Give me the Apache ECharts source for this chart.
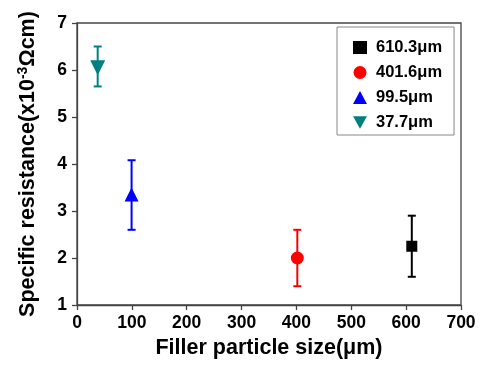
<!DOCTYPE html>
<html><head><meta charset="utf-8">
<script src="https://cdn.jsdelivr.net/npm/echarts@6/dist/echarts.min.js"></script>
<style>html,body{margin:0;padding:0;background:#fff}#c{width:487px;height:370px}</style>
</head><body><div id="c"></div>
<script>
const names = ['610.3μm', '401.6μm', '99.5μm', '37.7μm'];
const sizes = [610.3, 401.6, 99.5, 37.7];
const resist = [2.25, 2.0, 3.35, 6.05];
const errLow = [1.6, 1.4, 2.6, 5.65];
const errHigh = [2.9, 2.6, 4.08, 6.5];
const colors = ['#000000', '#ff0000', '#0000ff', '#008080'];
const symbols = ['rect', 'circle', 'triangle', 'triangle'];
const legendIcons = ['rect', 'circle', 'triangle', 'path://M0,0 L10,0 L5,9 Z'];
const rotations = [0, 0, 0, 180];
const symSizes = [11, 13, 14, 15];
const xTicks = [0, 100, 200, 300, 400, 500, 600, 700];
const yTicks = [1, 2, 3, 4, 5, 6, 7];

const font = '"Liberation Sans", Arial, sans-serif';
const chart = echarts.init(document.getElementById('c'));
const series = [];
names.forEach((n, i) => {
  series.push({
    type: 'custom',
    silent: true,
    data: [[sizes[i], errLow[i], errHigh[i]]],
    renderItem: function (params, api) {
      const lo = api.coord([api.value(0), api.value(1)]);
      const hi = api.coord([api.value(0), api.value(2)]);
      const w = 4;
      const st = {stroke: colors[i], lineWidth: 2};
      return {type: 'group', children: [
        {type: 'line', shape: {x1: lo[0], y1: lo[1], x2: hi[0], y2: hi[1]}, style: st},
        {type: 'line', shape: {x1: lo[0]-w, y1: lo[1], x2: lo[0]+w, y2: lo[1]}, style: st},
        {type: 'line', shape: {x1: hi[0]-w, y1: hi[1], x2: hi[0]+w, y2: hi[1]}, style: st}
      ]};
    },
    z: 2
  });
  series.push({
    name: n,
    type: 'scatter',
    data: [[sizes[i], resist[i]]],
    symbol: symbols[i],
    symbolRotate: rotations[i],
    symbolSize: symSizes[i],
    itemStyle: {color: colors[i], opacity: 1},
    z: 3
  });
});

chart.setOption({
  animation: false,
  grid: {left: 77, right: 26, top: 23, bottom: 65, show: true, borderColor: '#444', borderWidth: 1.3, backgroundColor: 'transparent'},
  legend: {
    data: names.map((n, i) => ({name: n, icon: legendIcons[i]})),
    orient: 'vertical',
    left: 337, top: 27,
    padding: [12, 12, 4, 16],
    itemGap: 8,
    itemWidth: 14, itemHeight: 13,
    symbolRotate: 0,
    borderColor: '#888', borderWidth: 1,
    backgroundColor: '#fff',
    textStyle: {fontFamily: font, fontWeight: 'bold', fontSize: 16.5, color: '#000', padding: [0, 0, 0, 4]}
  },
  xAxis: {
    type: 'value', min: 0, max: 700, interval: 100,
    name: 'Filler particle size(μm)', nameLocation: 'middle', nameGap: 24,
    nameTextStyle: {fontFamily: font, fontWeight: 'bold', fontSize: 21.5, color: '#000'},
    axisLine: {show: true, lineStyle: {color: '#444', width: 1.3}},
    axisTick: {show: true, inside: false, length: 5, lineStyle: {color: '#444', width: 1.3}},
    axisLabel: {fontFamily: font, fontWeight: 'bold', fontSize: 17.5, color: '#000', margin: 9,
      formatter: v => xTicks.includes(v) ? String(v) : ''},
    splitLine: {show: false}
  },
  yAxis: {
    type: 'value', min: 1, max: 7, interval: 1,
    name: '{a|Specific resistance(x10}{s|-3}{a|Ωcm)}', nameLocation: 'middle', nameGap: 36,
    nameTextStyle: {fontFamily: font, fontWeight: 'bold', fontSize: 21.5, color: '#000',
      rich: {
        a: {fontFamily: font, fontWeight: 'bold', fontSize: 21.5, color: '#000'},
        s: {fontFamily: font, fontWeight: 'bold', fontSize: 14, color: '#000', padding: [0, 0, 11, 0]}
      }},
    axisLine: {show: true, lineStyle: {color: '#444', width: 1.3}},
    axisTick: {show: true, inside: false, length: 5, lineStyle: {color: '#444', width: 1.3}},
    axisLabel: {fontFamily: font, fontWeight: 'bold', fontSize: 17.5, color: '#000', margin: 10,
      formatter: v => yTicks.includes(v) ? String(v) : ''},
    splitLine: {show: false}
  },
  series: series
});
</script></body></html>
